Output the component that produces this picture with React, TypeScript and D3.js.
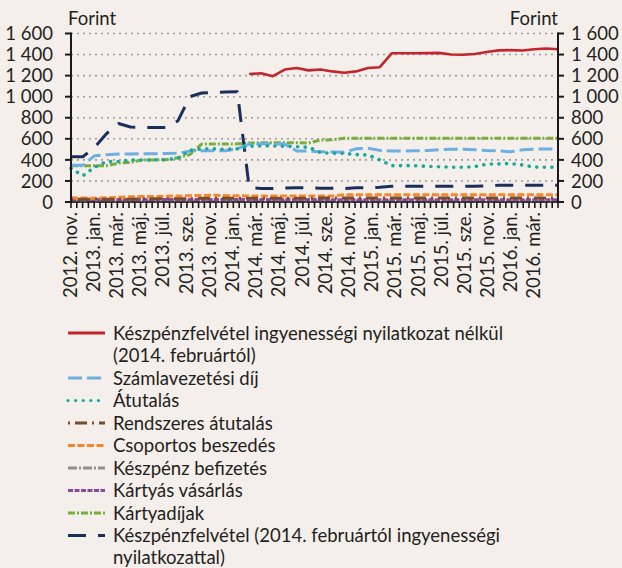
import React, { useEffect } from 'react';
import * as d3 from 'd3';

// month labels on the x axis (every second month, from 2012. nov.)
const xLabels = [
  '2012. nov.', '2013. jan.', '2013. már.', '2013. máj.', '2013. júl.', '2013. sze.', '2013. nov.',
  '2014. jan.', '2014. már.', '2014. máj.', '2014. júl.', '2014. sze.', '2014. nov.',
  '2015. jan.', '2015. már.', '2015. máj.', '2015. júl.', '2015. sze.', '2015. nov.',
  '2016. jan.', '2016. már.',
];

const yTicks = [0, 200, 400, 600, 800, 1000, 1200, 1400, 1600];

// monthly values, 2012. nov. - 2016. ápr. (42 months)
const keszpenzNelkul = [
  null, null, null, null, null, null, null, null, null, null, null, null, null, null, null,
  1215, 1222, 1195, 1258, 1272, 1250, 1258, 1240, 1228, 1240, 1272, 1280, 1412, 1412, 1412,
  1414, 1416, 1400, 1398, 1405, 1425, 1440, 1442, 1438, 1450, 1457, 1450,
];
const szamlavezetes = [
  350, 350, 440, 448, 455, 456, 458, 458, 460, 462, 485, 487, 487, 487, 505,
  550, 552, 552, 550, 485, 484, 478, 475, 472, 505, 510, 490, 484, 484, 486,
  490, 497, 500, 500, 497, 488, 485, 478, 495, 502, 503, 505,
];
const atutalas = [
  320, 250, 330, 383, 385, 398, 398, 400, 402, 415, 490, 505, 505, 500, 505,
  530, 532, 532, 530, 525, 520, 470, 462, 462, 450, 446, 400, 345, 345, 345,
  338, 335, 330, 330, 335, 360, 362, 365, 352, 332, 330, 332,
];
const rendszeres = [
  25, 25, 25, 25, 25, 25, 30, 30, 30, 30, 30, 35, 35, 35, 35,
  35, 35, 35, 35, 35, 35, 38, 38, 38, 38, 38, 38, 38, 38, 38,
  38, 38, 38, 38, 38, 38, 38, 38, 38, 38, 38, 38,
];
const csoportos = [
  40, 38, 35, 40, 45, 50, 52, 52, 55, 57, 60, 62, 65, 60, 60,
  58, 58, 58, 58, 58, 58, 58, 58, 68, 68, 68, 68, 68, 68, 68,
  68, 68, 68, 68, 68, 68, 68, 68, 68, 68, 68, 68,
];
const befizetes = [
  8, 8, 8, 8, 8, 8, 8, 8, 8, 8, 8, 8, 8, 8, 8,
  8, 8, 8, 8, 8, 8, 8, 8, 8, 8, 8, 8, 8, 8, 8,
  8, 8, 8, 8, 8, 8, 8, 8, 8, 8, 8, 8,
];
const kartyasVasarlas = [
  24, 24, 24, 24, 24, 24, 24, 24, 24, 24, 24, 24, 24, 24, 24,
  24, 24, 24, 24, 24, 24, 22, 22, 22, 22, 22, 22, 22, 22, 22,
  22, 22, 22, 22, 22, 22, 22, 22, 22, 22, 22, 22,
];
const kartyadijak = [
  345, 345, 345, 345, 370, 375, 400, 400, 402, 420, 450, 550, 551, 551, 552,
  560, 562, 562, 563, 563, 560, 588, 590, 605, 605, 605, 605, 605, 605, 605,
  605, 605, 605, 605, 605, 605, 605, 605, 605, 605, 605, 605,
];
const keszpenzNyilatkozattal = [
  430, 430, 520, 650, 745, 712, 708, 708, 708, 770, 1000, 1035, 1040, 1045, 1048,
  140, 128, 128, 132, 135, 135, 130, 130, 128, 135, 135, 140, 150, 150, 150,
  150, 150, 150, 150, 150, 152, 158, 160, 160, 160, 160, 160,
];

type Series = { name: string[]; values: (number | null)[]; color: string; dash: string; width: number; cap?: string };

const series: Series[] = [
  { name: ['Készpénzfelvétel ingyenességi nyilatkozat nélkül', '(2014. februártól)'], values: keszpenzNelkul, color: '#c3252c', dash: 'none', width: 2.6 },
  { name: ['Számlavezetési díj'], values: szamlavezetes, color: '#6cb0e3', dash: '14,5', width: 3 },
  { name: ['Átutalás'], values: atutalas, color: '#1aa99c', dash: '0.1,7.5', width: 3.6, cap: 'round' },
  { name: ['Rendszeres átutalás'], values: rendszeres, color: '#7a4b2f', dash: '2,5,12,5', width: 3 },
  { name: ['Csoportos beszedés'], values: csoportos, color: '#f7872a', dash: '7,2.5', width: 3 },
  { name: ['Készpénz befizetés'], values: befizetes, color: '#909090', dash: '9,2,2,2', width: 3.5 },
  { name: ['Kártyás vásárlás'], values: kartyasVasarlas, color: '#8a4a9e', dash: '5,1.5', width: 3 },
  { name: ['Kártyadíjak'], values: kartyadijak, color: '#79ad3c', dash: '7,2,2,2', width: 3 },
  { name: ['Készpénzfelvétel (2014. februártól ingyenességi', 'nyilatkozattal)'], values: keszpenzNyilatkozattal, color: '#1b2f5b', dash: '18,12', width: 3 },
];

// drawing order (last on top)
const drawOrder = [7, 5, 6, 4, 3, 8, 1, 2, 0];

const W = 622;
const H = 568;
const FONT = 'Lato, "Open Sans", sans-serif';
const TEXT = '#231f20';

export default function App() {
  useEffect(() => {
    document.body.style.margin = '0';
  }, []);

  const left = 71;
  const right = 558;
  const top = 33.5;
  const bottom = 202;

  // half-month ticks along the axis, data points one per month
  const xAxis = d3.scaleLinear().domain([0, 84]).range([left, right]);
  const xData = d3.scaleLinear().domain([0, szamlavezetes.length - 1]).range([left, right]);
  const y = d3.scaleLinear().domain([0, 1600]).range([bottom, top]);

  const line = d3.line<number | null>()
    .defined(d => d !== null)
    .x((_, i) => xData(i))
    .y(d => y(d as number));

  const legendTop = 333;
  let rowY = legendTop;
  const legendRows = series.map(s => {
    const r = { s, y: rowY };
    rowY += 22.5 * s.name.length;
    return r;
  });

  return (
    <svg width={W} height={H} style={{ display: 'block', background: '#f5efeb', fontFamily: FONT }}>
      <rect width={W} height={H} fill="#f5efeb" />
      {/* gridlines */}
      {yTicks.filter(t => t > 0).map(t => (
        <line key={t} x1={left} x2={right} y1={y(t)} y2={y(t)} stroke="#9c9c9c" strokeWidth={1.6} strokeDasharray="2,4" />
      ))}
      {/* series */}
      {drawOrder.map(i => {
        const s = series[i];
        return (
          <path key={i} d={line(s.values) || ''} fill="none" stroke={s.color} strokeWidth={s.width}
            strokeDasharray={s.dash} strokeLinecap={(s.cap as any) || 'butt'} strokeLinejoin="round" />
        );
      })}
      {/* axes */}
      <line x1={left} x2={left} y1={top - 1} y2={bottom + 1} stroke="#1a1a1a" strokeWidth={2} />
      <line x1={right} x2={right} y1={top - 1} y2={bottom + 1} stroke="#1a1a1a" strokeWidth={2} />
      <line x1={left} x2={right} y1={bottom} y2={bottom} stroke="#1a1a1a" strokeWidth={1.5} />
      {yTicks.map(t => (
        <g key={t}>
          <line x1={left - 6} x2={left} y1={y(t)} y2={y(t)} stroke="#1a1a1a" strokeWidth={2} />
          <line x1={right} x2={right + 6} y1={y(t)} y2={y(t)} stroke="#1a1a1a" strokeWidth={2} />
          <text x={53} y={y(t)} dy="0.36em" textAnchor="end" fontSize={18.5} fill={TEXT}>{d3.format(',')(t).replace(',', ' ')}</text>
          <text x={571} y={y(t)} dy="0.36em" textAnchor="start" fontSize={18.5} fill={TEXT}>{d3.format(',')(t).replace(',', ' ')}</text>
        </g>
      ))}
      {d3.range(0, 85).map(i => (
        <line key={i} x1={xAxis(i)} x2={xAxis(i)} y1={bottom} y2={bottom + 6} stroke="#1a1a1a" strokeWidth={1.6} />
      ))}
      {xLabels.map((l, i) => (
        <text key={l} transform={`translate(${xAxis(i * 4) - 1},212) rotate(-90)`} dy="0.36em" textAnchor="end" fontSize={18.5} fill={TEXT}>{l}</text>
      ))}
      <text x={68} y={25} fontSize={18.5} fill={TEXT}>Forint</text>
      <text x={558} y={25} fontSize={18.5} fill={TEXT} textAnchor="end">Forint</text>
      {/* legend */}
      {legendRows.map(({ s, y: ly }, i) => (
        <g key={i}>
          <line x1={68} x2={105} y1={ly} y2={ly} stroke={s.color} strokeWidth={3.2}
            strokeDasharray={s.dash} strokeLinecap={(s.cap as any) || 'butt'} />
          {s.name.map((n, j) => (
            <text key={j} x={113} y={ly + j * 22} dy="0.36em" fontSize={18.5} fill={TEXT}>{n}</text>
          ))}
        </g>
      ))}
    </svg>
  );
}
